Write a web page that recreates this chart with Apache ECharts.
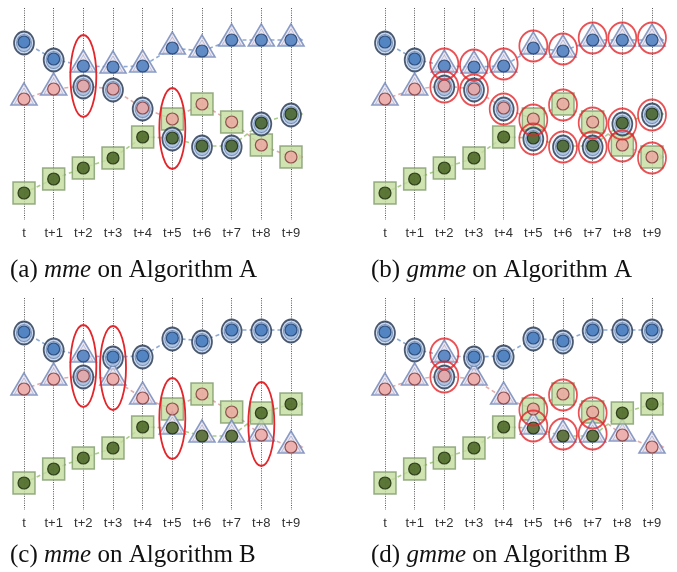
<!DOCTYPE html>
<html>
<head>
<meta charset="utf-8">
<script src="https://cdn.jsdelivr.net/npm/echarts@6/dist/echarts.min.js"></script>
<style>
html,body{margin:0;padding:0;background:#fff;}
#chart{width:677px;height:572px;}
</style>
</head>
<body>
<div id="chart"></div>
<script>
// ---------- data ----------
const timeLabels = ['t','t+1','t+2','t+3','t+4','t+5','t+6','t+7','t+8','t+9'];
// vertical level of each trajectory's inner dot at each time step
const blueY  = [178,161,154,153,154,172,169,180,180,180];
const pinkY  = [121,131,134,131,112,101,116,98,75,63];
const greenY = [27,41,52,62,83,82,74,74,97,106];
// cluster shape at each time step: C = ellipse, T = triangle, S = square
const shapesA_blue  = ['C','C','T','T','T','T','T','T','T','T'];
const shapesA_pink  = ['T','T','C','C','C','S','S','S','S','S'];
const shapesA_green = ['S','S','S','S','S','C','C','C','C','C'];
const shapesB_blue  = ['C','C','T','C','C','C','C','C','C','C'];
const shapesB_pink  = ['T','T','C','T','T','S','S','S','T','T'];
const shapesB_green = ['S','S','S','S','S','T','T','T','S','S'];
// mme highlights: [time step, trajectory, trajectory]
const mmeA = [[2,'blue','pink'],[5,'pink','green']];
const mmeB = [[2,'blue','pink'],[3,'blue','pink'],[5,'pink','green'],[8,'pink','green']];
const captions = [
  ['(a) ','mme',' on Algorithm A'],
  ['(b) ','gmme',' on Algorithm A'],
  ['(c) ','mme',' on Algorithm B'],
  ['(d) ','gmme',' on Algorithm B']
];

// ---------- styles ----------
const traj = {
  blue:  {y: blueY,  dot:'#3d74ba', dotBorder:'#1d3b68', line:'#8fabd4'},
  pink:  {y: pinkY,  dot:'#eca4a0', dotBorder:'#7a3434', line:'#e6aaaa'},
  green: {y: greenY, dot:'#3d5a18', dotBorder:'#18260a', line:'#a9cd86'}
};
const shapeStyle = {
  C: {symbol:'circle', size:[20,23], offset:[0,1], color:'#bed1eb', border:'#23334e', bw:1.8},
  T: {symbol:'triangle', size:[26,22], offset:[0,-5], color:'#ece2ee', border:'#6d85b8', bw:1.6},
  S: {symbol:'rect', size:[22,22], offset:[0,0], color:'#c4dd9f', border:'#7f9a6c', bw:1.5}
};
const RED = '#e3262b';

const panels = [
  {left:24,  top:8,   capTop:258, shapes:{blue:shapesA_blue, pink:shapesA_pink, green:shapesA_green}, mme:mmeA},
  {left:385, top:8,   capTop:258, shapes:{blue:shapesA_blue, pink:shapesA_pink, green:shapesA_green}, mme:null},
  {left:24,  top:298, capTop:543, shapes:{blue:shapesB_blue, pink:shapesB_pink, green:shapesB_green}, mme:mmeB},
  {left:385, top:298, capTop:543, shapes:{blue:shapesB_blue, pink:shapesB_pink, green:shapesB_green}, mme:null}
];

const grid = [], xAxis = [], yAxis = [], series = [], title = [];

panels.forEach((p, gi) => {
  grid.push({left:p.left, top:p.top, width:267, height:212});
  xAxis.push({
    type:'value', gridIndex:gi, min:0, max:9, interval:1,
    axisLine:{show:false}, axisTick:{show:false},
    axisLabel:{formatter:v => timeLabels[v] || '', color:'#333', fontSize:13,
      fontFamily:'Liberation Sans, Arial, sans-serif', margin:7},
    splitLine:{show:true, lineStyle:{color:'#555', width:1, type:[1,1.3]}}
  });
  yAxis.push({type:'value', gridIndex:gi, min:0, max:212, show:false, splitLine:{show:false}});

  Object.keys(traj).forEach(k => {
    const tr = traj[k];
    // connector
    series.push({
      type:'line', xAxisIndex:gi, yAxisIndex:gi, z:1, silent:true,
      data: tr.y.map((v,i)=>[i,v]), symbol:'none',
      lineStyle:{color:tr.line, width:1.6, type:[4,3]}
    });
    // continuation arrow after last step
    const last = tr.y[tr.y.length-1];
    series.push({
      type:'line', xAxisIndex:gi, yAxisIndex:gi, z:1, silent:true, clip:false,
      data:[{value:[9,last], symbol:'none'},
            {value:[9.42,last], symbol:'arrow', symbolSize:[6,6], symbolRotate:-90}],
      lineStyle:{color:tr.line, width:1.6, type:[4,3]},
      itemStyle:{color:tr.line}
    });
  });

  // outer cluster shapes
  Object.keys(traj).forEach(k => {
    const tr = traj[k], sh = p.shapes[k];
    series.push({
      type:'scatter', xAxisIndex:gi, yAxisIndex:gi, z:2, silent:true, clip:false,
      data: tr.y.map((v,i)=>{
        const s = shapeStyle[sh[i]];
        return {value:[i,v], symbol:s.symbol, symbolSize:s.size, symbolOffset:s.offset,
          itemStyle:{color:s.color, borderColor:s.border, borderWidth:s.bw}};
      })
    });
    // inner ring for ellipses / inner outline for triangles
    series.push({
      type:'scatter', xAxisIndex:gi, yAxisIndex:gi, z:3, silent:true, clip:false,
      data: tr.y.map((v,i)=>({value:[i,v], s:sh[i]})).filter(d=>d.s!=='S').map(d=>{
        if (d.s === 'C') return {value:d.value, symbol:'circle', symbolSize:[15,17], symbolOffset:[0,1],
          itemStyle:{color:'#a9c0e2', borderColor:'#6681ab', borderWidth:1}};
        return {value:d.value, symbol:'triangle', symbolSize:[19,16], symbolOffset:[0,-3],
          itemStyle:{color:'#efe6f0', borderColor:'#9aaad0', borderWidth:0.8}};
      })
    });
  });

  // inner dots
  Object.keys(traj).forEach(k => {
    const tr = traj[k];
    series.push({
      type:'scatter', xAxisIndex:gi, yAxisIndex:gi, z:4, silent:true, clip:false,
      symbol:'circle', symbolSize:12,
      itemStyle:{color:tr.dot, borderColor:tr.dotBorder, borderWidth:1.2},
      data: tr.y.map((v,i)=>[i,v])
    });
  });

  if (p.mme) {
    // red ellipses around swapped pairs
    series.push({
      type:'custom', xAxisIndex:gi, yAxisIndex:gi, z:5, silent:true, clip:false,
      data: p.mme.map(m => [m[0], traj[m[1]].y[m[0]], traj[m[2]].y[m[0]]]),
      renderItem: (params, api) => {
        const a = api.coord([api.value(0), api.value(1)]);
        const b = api.coord([api.value(0), api.value(2)]);
        return {type:'ellipse', shape:{cx:a[0], cy:(a[1]+b[1])/2, rx:13, ry:Math.abs(a[1]-b[1])/2+31},
          style:{fill:'none', stroke:RED, lineWidth:1.8}};
      }
    });
  } else {
    // gmme: red circle on every element whose cluster differs from its initial one
    const marks = [];
    Object.keys(traj).forEach(k => {
      const sh = p.shapes[k];
      traj[k].y.forEach((v,i) => { if (sh[i] !== sh[0]) marks.push({value:[i,v], symbolOffset:[0, sh[i]==='T'?-2:1]}); });
    });
    series.push({
      type:'scatter', xAxisIndex:gi, yAxisIndex:gi, z:5, silent:true, clip:false,
      symbol:'circle', symbolSize:[28,31],
      itemStyle:{color:'rgba(0,0,0,0)', borderColor:RED, borderWidth:1.8},
      data: marks
    });
  }

  const c = captions[gi];
  const font = 'Liberation Serif, Times New Roman, serif';
  title.push({
    left: p.left - 14, top: p.capTop, padding:0,
    text: '{n|' + c[0] + '}{i|' + c[1] + '}{n|' + c[2] + '}',
    textStyle:{fontWeight:'normal', rich:{
      n:{fontFamily:font, fontSize:25, fontWeight:'normal', color:'#111'},
      i:{fontFamily:font, fontSize:25, fontWeight:'normal', fontStyle:'italic', color:'#111'}
    }}
  });
});

const chart = echarts.init(document.getElementById('chart'), null, {renderer:'canvas'});
chart.setOption({backgroundColor:'#fff', animation:false, title, grid, xAxis, yAxis, series});
</script>
</body>
</html>
